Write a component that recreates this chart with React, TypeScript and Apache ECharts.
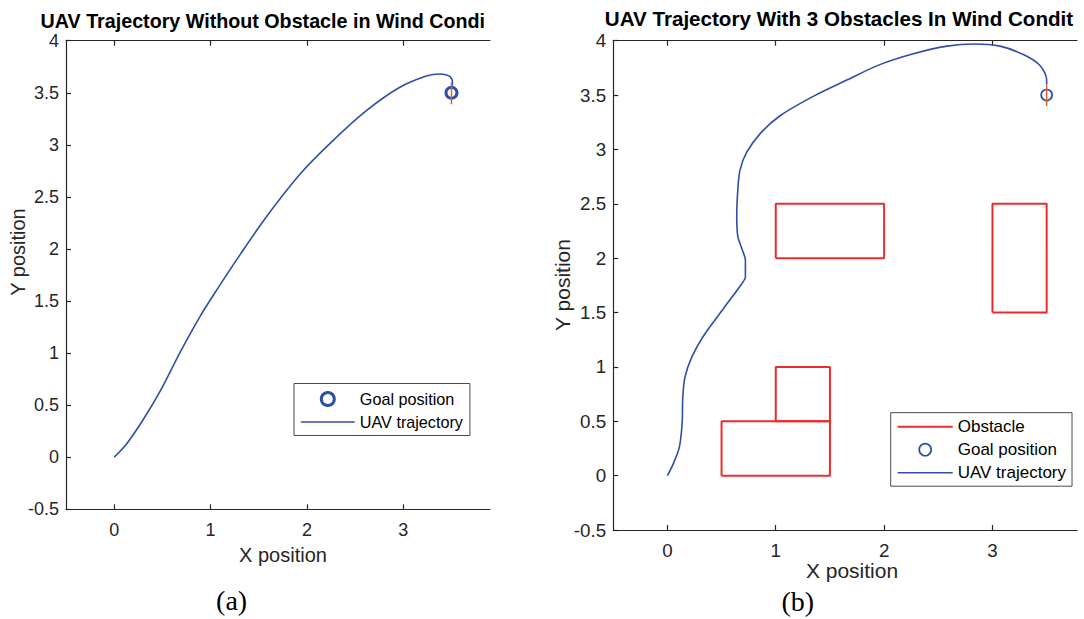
import React, { useEffect, useRef } from 'react';
import * as echarts from 'echarts';

const FONT = '"Liberation Sans", Arial, Helvetica, sans-serif';
const SERIF = '"Liberation Serif", "Times New Roman", serif';
const AXIS_COLOR = '#262626';
const BLUE = '#2F4FA6';
const RED = '#EE2A2A';
const ORANGE = '#D9632F';

// ---- data ----
const xTickValues = [0, 1, 2, 3];

const trajectoryA: number[][] = [
  [0, 0], [0.13, 0.13], [0.3, 0.36], [0.48, 0.64], [0.68, 1.0], [0.89, 1.35],
  [1.06, 1.6], [1.31, 1.95], [1.58, 2.31], [1.93, 2.72], [2.27, 3.04],
  [2.62, 3.33], [2.96, 3.55], [3.24, 3.66], [3.38, 3.68], [3.45, 3.67],
  [3.49, 3.65], [3.51, 3.61], [3.51, 3.57],
];

const trajectoryB: number[][] = [
  [0, 0], [0.055, 0.11], [0.11, 0.26], [0.136, 0.48], [0.142, 0.72], [0.163, 0.91],
  [0.225, 1.09], [0.33, 1.28], [0.52, 1.54], [0.69, 1.77], [0.72, 1.83],
  [0.72, 1.98], [0.69, 2.08], [0.65, 2.2], [0.64, 2.38], [0.65, 2.63],
  [0.67, 2.81], [0.73, 2.97], [0.86, 3.15], [1.04, 3.31], [1.35, 3.49],
  [1.66, 3.64], [1.96, 3.78], [2.27, 3.88], [2.58, 3.95], [2.83, 3.97],
  [3.07, 3.95], [3.29, 3.87], [3.44, 3.77], [3.5, 3.64], [3.5, 3.6],
];

const goalA: number[][] = [[3.5, 3.5]];
const goalB: number[][] = [[3.5, 3.5]];
const windA: number[][] = [[3.5, 3.39], [3.5, 3.6]];
const windB: number[][] = [[3.5, 3.4], [3.5, 3.6]];

// obstacles: [x1, y1, x2, y2]
const obstacleRects: number[][] = [
  [1, 2, 2, 2.5],
  [3, 1.5, 3.5, 2.5],
  [1, 0.5, 1.5, 1],
  [0.5, 0, 1.5, 0.5],
];

function rectLoop(r: number[]): number[][] {
  const [x1, y1, x2, y2] = r;
  return [[x1, y1], [x2, y1], [x2, y2], [x1, y2], [x1, y1]];
}

function axes(xMax: number, tickFont: number, xMargin: number) {
  const line = { show: true, onZero: false, lineStyle: { color: AXIS_COLOR, width: 1.2 } };
  const tick = { show: true, inside: true, length: 5, lineStyle: { color: AXIS_COLOR, width: 1.2 } };
  return {
    xAxis: [
      {
        type: 'value', min: -0.5, max: xMax, position: 'bottom',
        axisLine: line,
        axisTick: { ...tick, customValues: xTickValues },
        axisLabel: { customValues: xTickValues, margin: xMargin, fontSize: tickFont, color: AXIS_COLOR, fontFamily: FONT },
        splitLine: { show: false },
      },
      {
        type: 'value', min: -0.5, max: xMax, position: 'top',
        axisLine: line,
        axisTick: { ...tick, customValues: xTickValues },
        axisLabel: { show: false },
        splitLine: { show: false },
      },
    ],
    yAxis: {
      type: 'value', min: -0.5, max: 4, interval: 0.5,
      axisLine: line,
      axisTick: tick,
      axisLabel: { margin: 7, fontSize: tickFont, color: AXIS_COLOR, fontFamily: FONT },
      splitLine: { show: false },
    },
  };
}

function txt(text: string, x: number, y: number, font: string, opts: any = {}) {
  return {
    type: 'text', x, y, rotation: opts.rotation || 0, silent: true,
    style: {
      text, font, fill: opts.fill || '#000',
      align: opts.align || 'center', verticalAlign: 'middle',
    },
  };
}

const hiddenSymbol = { opacity: 0 };

function optionA(): any {
  return {
    animation: false,
    grid: { left: 66, right: 50, top: 40.7, bottom: 109.7, containLabel: false },
    ...axes(3.9, 18, 12),
    legend: {
      orient: 'vertical', left: 294, top: 383.5, padding: [7.5, 7, 5.5, 6], itemGap: 7,
      itemWidth: 54, itemHeight: 13, borderColor: '#4a4a4a', borderWidth: 1, backgroundColor: '#fff',
      selectedMode: false,
      textStyle: { fontSize: 16.2, color: '#000', fontFamily: FONT, lineHeight: 16 },
      data: [
        { name: 'Goal position', icon: 'circle', itemStyle: { color: '#fff', borderColor: BLUE, borderWidth: 3, opacity: 1 } },
        { name: 'UAV trajectory', itemStyle: hiddenSymbol, lineStyle: { color: BLUE, width: 1.6 } },
      ],
    },
    graphic: [
      txt('UAV Trajectory Without Obstacle in Wind Condi', 40.6, 21, `bold 19.7px ${FONT}`, { align: 'left' }),
      txt('X position', 283, 554.5, `20px ${FONT}`, { fill: AXIS_COLOR }),
      txt('Y position', 18, 252, `20px ${FONT}`, { fill: AXIS_COLOR, rotation: Math.PI / 2 }),
      txt('(a)', 231.6, 600.5, `28px ${SERIF}`),
    ],
    series: [
      {
        name: 'UAV trajectory', type: 'line', data: trajectoryA, smooth: 0.3, symbol: 'none',
        lineStyle: { color: BLUE, width: 1.6 }, itemStyle: { color: BLUE }, z: 2, silent: true,
      },
      {
        name: 'Goal position', type: 'scatter', data: goalA, symbol: 'circle', symbolSize: 11,
        itemStyle: { color: '#fff', borderColor: BLUE, borderWidth: 3, opacity: 1 }, z: 3, silent: true,
      },
      {
        name: 'wind', type: 'line', data: windA, symbol: 'none',
        lineStyle: { color: ORANGE, width: 1.5 }, z: 4, silent: true,
      },
    ],
  };
}

function optionB(): any {
  const obstacleSeries = obstacleRects.map((r) => ({
    name: 'Obstacle', type: 'line', data: rectLoop(r), symbol: 'none',
    lineStyle: { color: RED, width: 2 }, itemStyle: { color: RED }, z: 1, silent: true,
  }));
  return {
    animation: false,
    grid: { left: 73.2, right: 7, top: 40.7, bottom: 89, containLabel: false },
    ...axes(3.78, 18.8, 11),
    legend: {
      orient: 'vertical', left: 350.7, top: 412.7, padding: [5.5, 6, 5, 6], itemGap: 6,
      itemWidth: 55, itemHeight: 12, borderColor: '#4a4a4a', borderWidth: 1, backgroundColor: '#fff',
      selectedMode: false,
      textStyle: { fontSize: 17, color: '#000', fontFamily: FONT, lineHeight: 17 },
      data: [
        { name: 'Obstacle', itemStyle: hiddenSymbol, lineStyle: { color: RED, width: 2 } },
        { name: 'Goal position', icon: 'circle', itemStyle: { color: '#fff', borderColor: BLUE, borderWidth: 1.7, opacity: 1 } },
        { name: 'UAV trajectory', itemStyle: hiddenSymbol, lineStyle: { color: BLUE, width: 1.6 } },
      ],
    },
    graphic: [
      txt('UAV Trajectory With 3 Obstacles In Wind Condit', 64.8, 18, `bold 20.6px ${FONT}`, { align: 'left' }),
      txt('X position', 312, 570.5, `21px ${FONT}`, { fill: AXIS_COLOR }),
      txt('Y position', 22, 285, `21px ${FONT}`, { fill: AXIS_COLOR, rotation: Math.PI / 2 }),
      txt('(b)', 257.8, 601, `28px ${SERIF}`),
    ],
    series: [
      ...obstacleSeries,
      {
        name: 'UAV trajectory', type: 'line', data: trajectoryB, smooth: 0.3, symbol: 'none',
        lineStyle: { color: BLUE, width: 1.6 }, itemStyle: { color: BLUE }, z: 2, silent: true,
      },
      {
        name: 'Goal position', type: 'scatter', data: goalB, symbol: 'circle', symbolSize: 11,
        itemStyle: { color: '#fff', borderColor: BLUE, borderWidth: 1.7, opacity: 1 }, z: 3, silent: true,
      },
      {
        name: 'wind', type: 'line', data: windB, symbol: 'none',
        lineStyle: { color: ORANGE, width: 1.5 }, z: 4, silent: true,
      },
    ],
  };
}

function Panel({ left, width, option }: { left: number; width: number; option: () => any }) {
  const ref = useRef<HTMLDivElement>(null);
  useEffect(() => {
    if (!ref.current) return;
    const chart = echarts.init(ref.current, undefined, { renderer: 'svg' });
    chart.setOption(option());
    return () => chart.dispose();
  }, []);
  return <div ref={ref} style={{ position: 'absolute', left, top: 0, width, height: 619 }} />;
}

export default function App() {
  return (
    <div style={{ position: 'fixed', left: 0, top: 0, width: 1084, height: 619, background: '#fff', overflow: 'hidden' }}>
      <Panel left={0} width={540} option={optionA} />
      <Panel left={540} width={544} option={optionB} />
    </div>
  );
}
